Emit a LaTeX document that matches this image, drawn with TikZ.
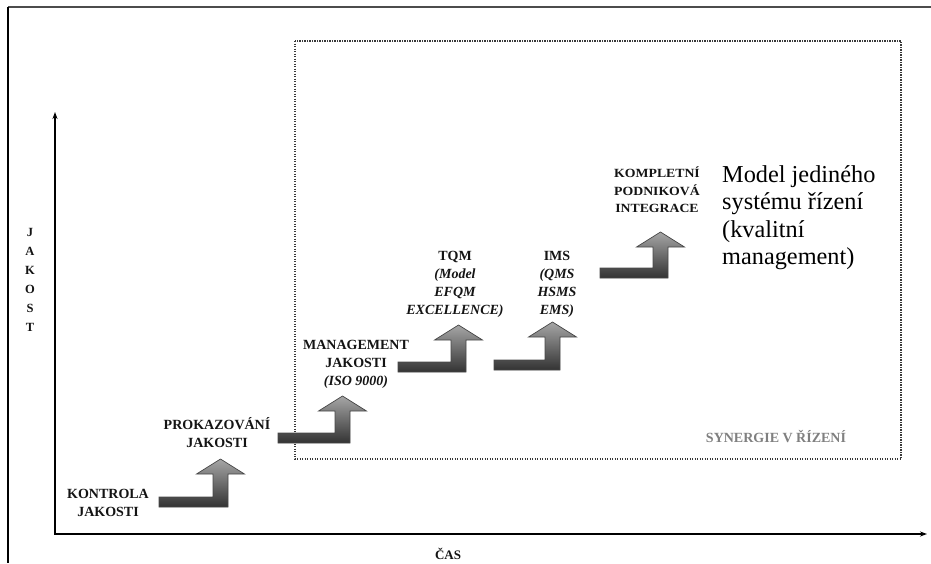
\documentclass[tikz,border=0pt]{standalone}
\usepackage{fontspec}
\setmainfont{Liberation Serif}
\usetikzlibrary{arrows.meta}
\newcommand\stepArrow[4]{% left, bar top, stem right, head base
  \path[steparr] (#1,#2) -- ({#3-15},#2) -- ({#3-15},#4) -- ({#3-31.5},#4)
    -- ({#3-7.5},{#4-15}) -- ({#3+16.5},#4) -- (#3,#4) -- (#3,{#2+10})
    -- (#1,{#2+10}) -- cycle;}
\newcommand\tl{\rule{0pt}{1em}}
\begin{document}
\begin{tikzpicture}[x=1pt,y=-1pt,
  lbl/.style={font=\fontsize{14}{18}\selectfont\bfseries, align=center,
    anchor=north, inner sep=0pt, text=black!92},
  steparr/.style={top color=black!35, bottom color=black!80, draw=black!72,
    line width=0.7pt},
  axis/.style={line width=1.8pt, -{Stealth[length=7pt,width=5pt]}}]
\useasboundingbox (0,0) rectangle (931,563);
\fill[white] (0,0) rectangle (931,563);
% frame
\draw[line width=2.8pt, black!70] (8,7) -- (931,7);
\draw[line width=1.6pt] (8,7) -- (8,563);
% dotted box
\draw[black!78, line width=1.4pt, dash pattern=on 1.2pt off 1.3pt] (295,41) rectangle (901,459);
% axes
\coordinate (O) at (55,534);
\coordinate (Ytop) at (55,112);
\coordinate (Xend) at (927,534);
\draw[axis] (O) -- (Ytop);
\draw[axis] ([xshift=-0.9pt]O) -- (Xend);
% arrows
\stepArrow{159}{497}{228}{474}
\stepArrow{278}{433}{350}{411}
\stepArrow{398}{362}{466}{340}
\stepArrow{494}{360}{560}{337}
\stepArrow{600}{268}{668}{247}
% labels
\node[lbl] (kontrola) at (108,484) {\tl KONTROLA\\JAKOSTI};
\node[lbl] (prokaz) at (217,415) {\tl PROKAZOVÁNÍ\\JAKOSTI};
\node[lbl] (mgmt) at (356,335) {\tl MANAGEMENT\\JAKOSTI\\\itshape (ISO 9000)};
\node[lbl] (tqm) at (455,246) {\tl TQM\\\itshape (Model\\\itshape EFQM\\\itshape EXCELLENCE)};
\node[lbl] (ims) at (557,246) {\tl IMS\\\itshape (QMS\\\itshape HSMS\\\itshape EMS)};
\node[lbl, font=\fontsize{12.5}{17.5}\selectfont\bfseries] (komplet) at (657,165)
  {\scalebox{1.1}[1]{\begin{tabular}{@{}c@{}}\rule{0pt}{12.5pt}KOMPLETNÍ\\PODNIKOVÁ\\INTEGRACE\end{tabular}}};
\node[anchor=north west, inner sep=0pt, align=left,
  font=\fontsize{24.3}{27.5}\selectfont] (model) at (722,165)
  {Model jediného\\systému řízení\\(kvalitní\\management)};
\node[lbl, text=black!50] (synergie) at (776,428) {\tl SYNERGIE V ŘÍZENÍ};
\node[lbl, font=\fontsize{12.5}{19}\selectfont\bfseries] (jakost) at (30,224)
  {\tl J\\A\\K\\O\\S\\T};
\node[lbl, font=\fontsize{13}{18}\selectfont\bfseries] (cas) at (448,546) {\tl ČAS};
\end{tikzpicture}
\end{document}
